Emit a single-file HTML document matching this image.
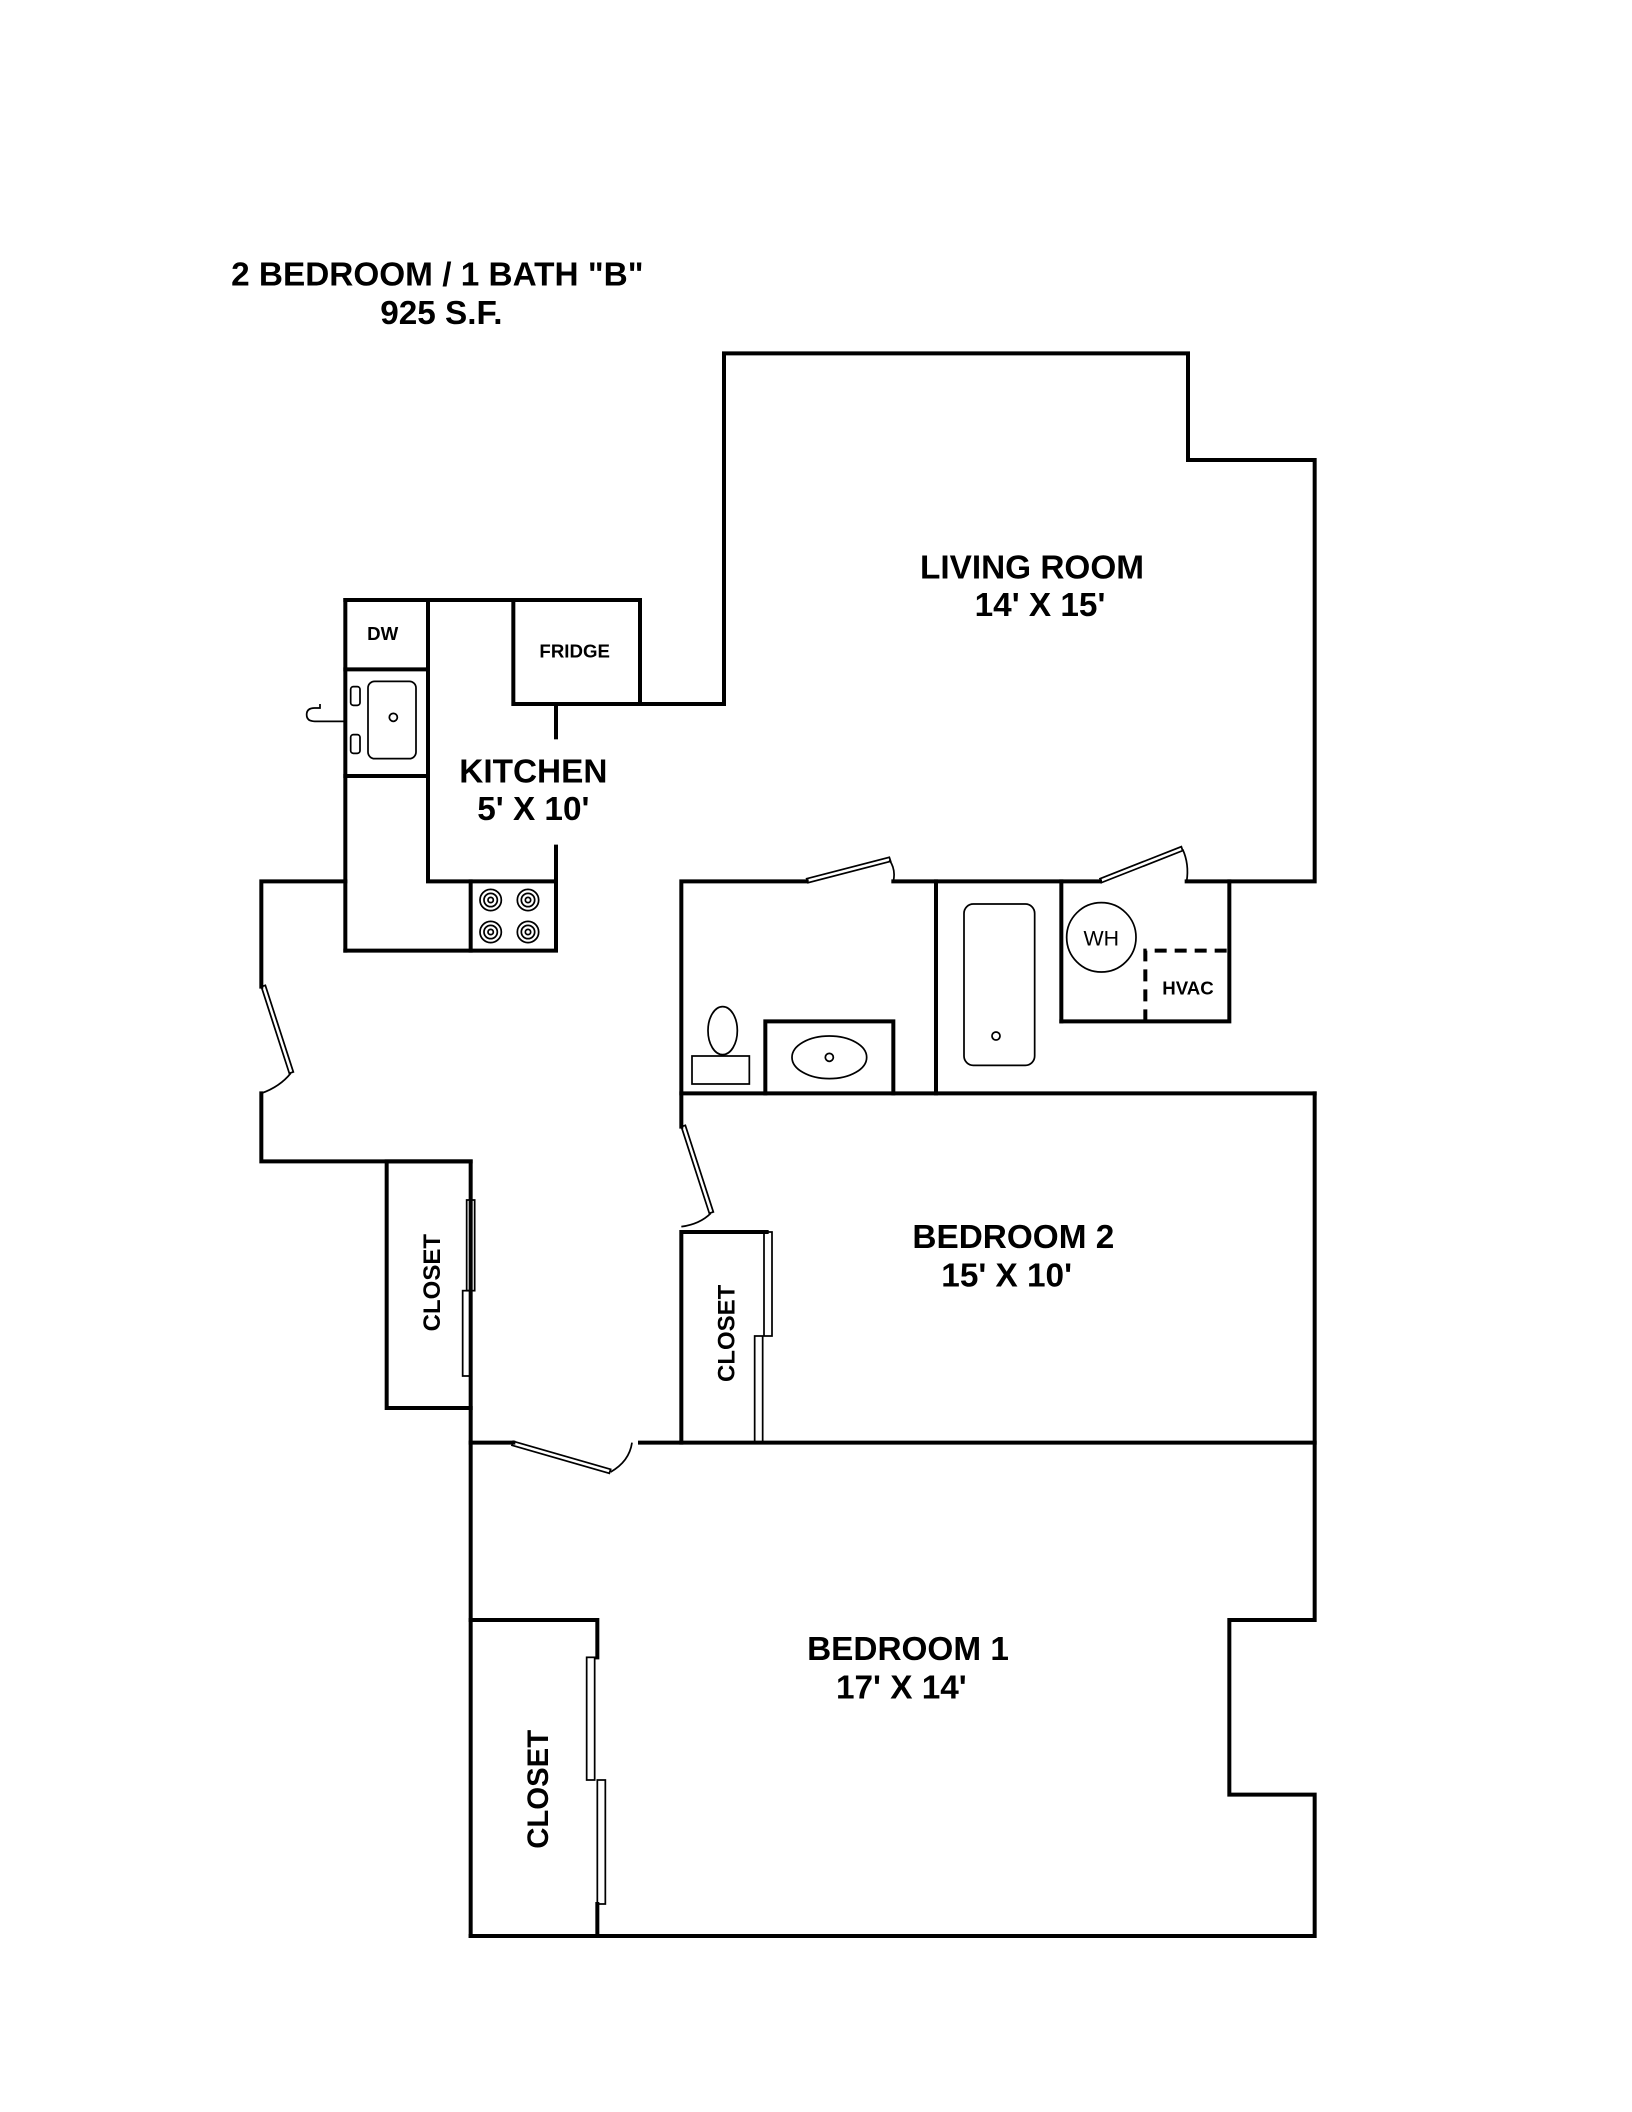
<!DOCTYPE html>
<html><head><meta charset="utf-8"><style>
html,body{margin:0;padding:0;background:#fff;}
svg{display:block}
text{font-family:"Liberation Sans",Arial,sans-serif;font-weight:bold;fill:#000;}
</style></head><body>
<svg width="1632" height="2112" viewBox="0 0 1224 1584" xmlns="http://www.w3.org/2000/svg">
<g fill="none" stroke="#000" stroke-width="3" stroke-linecap="square">
<polyline points="480,528 543,528 543,265 891,265 891,345 986,345 986,661 890,661"/>
<line x1="825" y1="661" x2="670" y2="661"/>
<polyline points="605,661 511,661 511,845"/>
<rect x="385" y="450" width="95" height="78"/>
<line x1="259" y1="450" x2="385" y2="450"/>
<line x1="259" y1="450" x2="259" y2="713"/>
<line x1="259" y1="502" x2="321" y2="502"/>
<line x1="259" y1="582" x2="321" y2="582"/>
<polyline points="321,450 321,661 417,661"/>
<polyline points="259,713 417,713 417,635"/>
<line x1="417" y1="528" x2="417" y2="553"/>
<line x1="353" y1="661" x2="353" y2="713"/>
<polyline points="259,661 196,661 196,740"/>
<polyline points="196,820 196,871 353,871 353,1452"/>
<polyline points="353,871 290,871 290,1056 353,1056"/>
<line x1="353" y1="1082" x2="385" y2="1082"/>
<line x1="480" y1="1082" x2="986" y2="1082"/>
<polyline points="986,820 986,1215 922,1215 922,1346 986,1346 986,1452 353,1452"/>
<polyline points="353,1215 448,1215 448,1243"/>
<line x1="448" y1="1428" x2="448" y2="1452"/>
<line x1="511" y1="820" x2="986" y2="820"/>
<line x1="702" y1="661" x2="702" y2="820"/>
<line x1="796" y1="661" x2="796" y2="766"/>
<polyline points="796,766 922,766 922,661"/>
<polyline points="574,820 574,766 670,766 670,820"/>
<polyline points="511,1082 511,924 575,924"/>
</g>
<g fill="none" stroke="#000" stroke-width="3" stroke-dasharray="9,6">
<polyline points="859,766 859,713 922,713"/>
</g>
<g fill="none" stroke="#000" stroke-width="1.3">
<polygon points="196,740 199,739 220,804 217,805"/>
<path d="M218,805 Q210,815 196,820"/>
<polygon points="511,845 514,844 535,909 532,910"/>
<path d="M533,910 Q525,918 511,920"/>
<polygon points="605,659 667,643 668,646 606,662"/>
<path d="M667,645 Q672,652 670,661"/>
<polygon points="825,659 886,635 887,638 826,662"/>
<path d="M887,637 Q892,648 890,661"/>
<polygon points="385,1081 458,1102 457,1105 384,1084"/>
<path d="M458,1104 Q472,1096 474,1082"/>
<rect x="350" y="900" width="6" height="68"/>
<rect x="347" y="968" width="6" height="64"/>
<rect x="573" y="924" width="6" height="78"/>
<rect x="566" y="1002" width="6" height="80"/>
<rect x="440" y="1243" width="6" height="92"/>
<rect x="448" y="1335" width="6" height="93"/>
<rect x="276" y="511" width="36" height="58" rx="5"/>
<rect x="263" y="515" width="7" height="14" rx="2"/>
<rect x="263" y="551" width="7" height="14" rx="2"/>
<path d="M258,541 L236,541 Q230,541 230,536 Q230,531 236,531 L240,531 L240,528"/>
<circle cx="295" cy="538" r="3"/>
<circle cx="368" cy="675" r="8"/><circle cx="368" cy="675" r="5"/><circle cx="368" cy="675" r="2"/>
<circle cx="396" cy="675" r="8"/><circle cx="396" cy="675" r="5"/><circle cx="396" cy="675" r="2"/>
<circle cx="368" cy="699" r="8"/><circle cx="368" cy="699" r="5"/><circle cx="368" cy="699" r="2"/>
<circle cx="396" cy="699" r="8"/><circle cx="396" cy="699" r="5"/><circle cx="396" cy="699" r="2"/>
<ellipse cx="542" cy="773" rx="11" ry="18"/>
<rect x="519" y="792" width="43" height="21"/>
<ellipse cx="622" cy="793" rx="28" ry="16"/>
<circle cx="622" cy="793" r="3"/>
<rect x="723" y="678" width="53" height="121" rx="7"/>
<circle cx="747" cy="777" r="3"/>
<circle cx="826" cy="703" r="26"/>
</g>
<text x="328" y="214" font-size="25" text-anchor="middle">2 BEDROOM / 1 BATH "B"</text>
<text x="331" y="243" font-size="25" text-anchor="middle">925 S.F.</text>
<text x="774" y="434" font-size="25" text-anchor="middle">LIVING ROOM</text>
<text x="780" y="462" font-size="25" text-anchor="middle">14' X 15'</text>
<text x="400" y="587" font-size="25" text-anchor="middle">KITCHEN</text>
<text x="400" y="615" font-size="25" text-anchor="middle">5' X 10'</text>
<text x="760" y="936" font-size="25" text-anchor="middle">BEDROOM 2</text>
<text x="755" y="965" font-size="25" text-anchor="middle">15' X 10'</text>
<text x="681" y="1245" font-size="25" text-anchor="middle">BEDROOM 1</text>
<text x="676" y="1274" font-size="25" text-anchor="middle">17' X 14'</text>
<text x="287" y="480" font-size="14" text-anchor="middle">DW</text>
<text x="431" y="493" font-size="14" text-anchor="middle">FRIDGE</text>
<text x="826" y="709" font-size="16" text-anchor="middle" style="font-weight:normal">WH</text>
<text x="891" y="746" font-size="14" text-anchor="middle">HVAC</text>
<text transform="translate(330,962) rotate(-90)" font-size="18" text-anchor="middle">CLOSET</text>
<text transform="translate(551,1000) rotate(-90)" font-size="18" text-anchor="middle">CLOSET</text>
<text transform="translate(411,1342) rotate(-90)" font-size="22" text-anchor="middle">CLOSET</text>
</svg>
</body></html>
